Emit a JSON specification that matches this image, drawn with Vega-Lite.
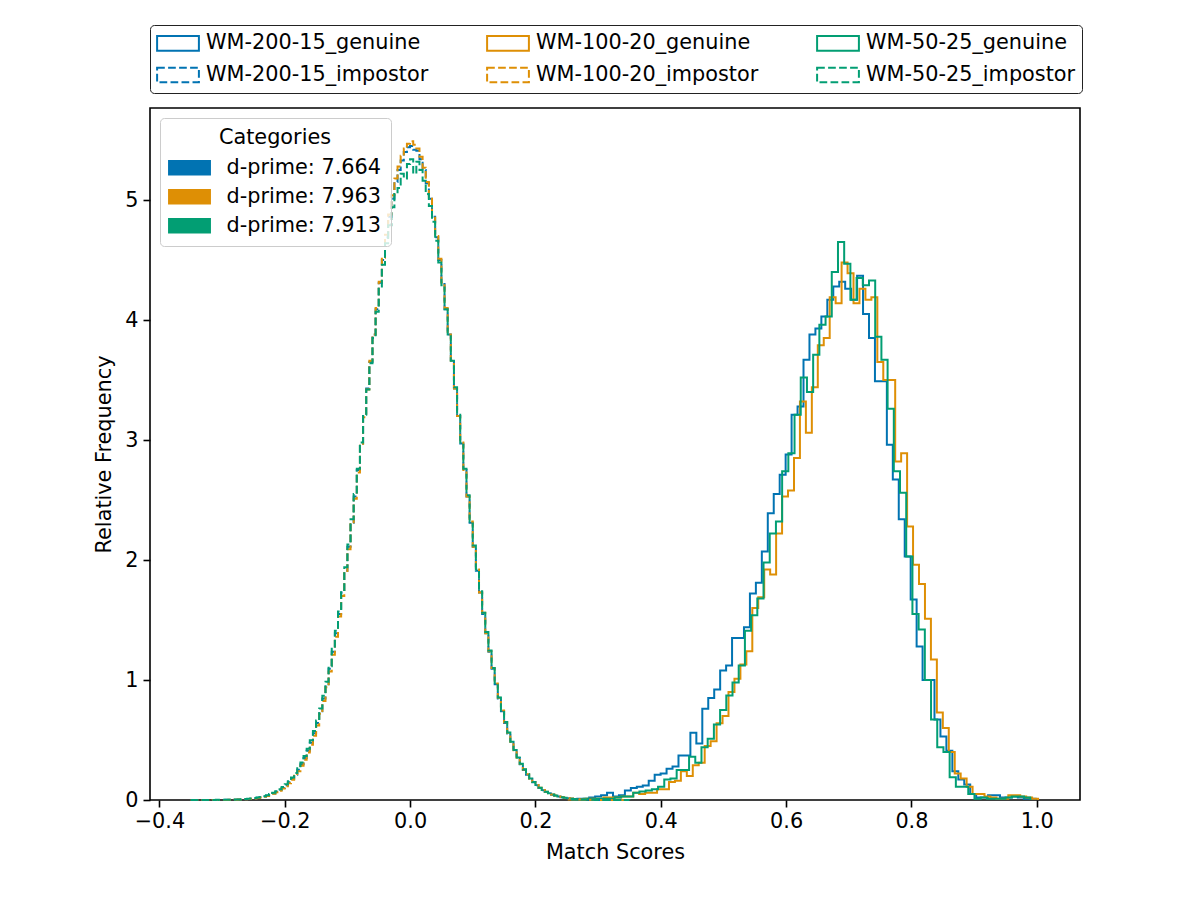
{
  "$schema": "https://vega.github.io/schema/vega-lite/v6.json",
  "width": 930,
  "height": 692,
  "autosize": {"type": "none"},
  "padding": {"left": 150, "top": 108, "right": 120, "bottom": 100},
  "config": {
    "font": "DejaVu Sans",
    "view": {"stroke": "black", "strokeWidth": 1.6},
    "axis": {
      "domain": false, "grid": false,
      "tickColor": "black", "tickSize": 7, "tickWidth": 1.6,
      "labelFontSize": 20.8, "labelColor": "black", "labelFont": "DejaVu Sans",
      "titleFontSize": 20.8, "titleFontWeight": "normal", "titleColor": "black", "titleFont": "DejaVu Sans"
    },
    "legend": {"labelFont": "DejaVu Sans", "titleFont": "DejaVu Sans", "labelColor": "black", "titleColor": "black", "labelLimit": 400}
  },
  "datasets": {
    "gn": [
      {"k": "b", "s": "WM-200-15_genuine"},
      {"k": "o", "s": "WM-100-20_genuine"},
      {"k": "g", "s": "WM-50-25_genuine"}
    ],
    "in": [
      {"k": "b", "s": "WM-200-15_impostor"},
      {"k": "o", "s": "WM-100-20_impostor"},
      {"k": "g", "s": "WM-50-25_impostor"}
    ],
    "gen": [
      {"k":"b","x":0.2573,"y":0.005},{"k":"b","x":0.2668,"y":0.01},{"k":"b","x":0.2763,"y":0.01},{"k":"b","x":0.2858,"y":0.02},
      {"k":"b","x":0.2953,"y":0.03},{"k":"b","x":0.3048,"y":0.04},{"k":"b","x":0.3143,"y":0.06},{"k":"b","x":0.3238,"y":0.03},
      {"k":"b","x":0.3333,"y":0.04},{"k":"b","x":0.3428,"y":0.08},{"k":"b","x":0.3523,"y":0.10},{"k":"b","x":0.3618,"y":0.11},
      {"k":"b","x":0.3713,"y":0.12},{"k":"b","x":0.3808,"y":0.16},{"k":"b","x":0.3903,"y":0.21},{"k":"b","x":0.3998,"y":0.22},
      {"k":"b","x":0.4093,"y":0.26},{"k":"b","x":0.4188,"y":0.28},{"k":"b","x":0.4283,"y":0.37},{"k":"b","x":0.4378,"y":0.37},
      {"k":"b","x":0.4473,"y":0.56},{"k":"b","x":0.4568,"y":0.47},{"k":"b","x":0.4663,"y":0.76},{"k":"b","x":0.4758,"y":0.85},
      {"k":"b","x":0.4853,"y":0.92},{"k":"b","x":0.4948,"y":1.08},{"k":"b","x":0.5043,"y":1.12},{"k":"b","x":0.5138,"y":1.35},
      {"k":"b","x":0.5233,"y":1.35},{"k":"b","x":0.5328,"y":1.44},{"k":"b","x":0.5423,"y":1.72},{"k":"b","x":0.5518,"y":1.81},
      {"k":"b","x":0.5613,"y":2.07},{"k":"b","x":0.5708,"y":2.39},{"k":"b","x":0.5803,"y":2.55},{"k":"b","x":0.5898,"y":2.71},
      {"k":"b","x":0.5993,"y":2.88},{"k":"b","x":0.6088,"y":3.21},{"k":"b","x":0.6183,"y":3.28},{"k":"b","x":0.6278,"y":3.67},
      {"k":"b","x":0.6373,"y":3.88},{"k":"b","x":0.6468,"y":3.93},{"k":"b","x":0.6563,"y":4.03},{"k":"b","x":0.6658,"y":4.17},
      {"k":"b","x":0.6753,"y":4.28},{"k":"b","x":0.6848,"y":4.32},{"k":"b","x":0.6943,"y":4.26},{"k":"b","x":0.7038,"y":4.17},
      {"k":"b","x":0.7133,"y":4.37},{"k":"b","x":0.7228,"y":4.05},{"k":"b","x":0.7323,"y":3.85},{"k":"b","x":0.7418,"y":3.49},
      {"k":"b","x":0.7513,"y":3.49},{"k":"b","x":0.7608,"y":2.96},{"k":"b","x":0.7703,"y":2.67},{"k":"b","x":0.7798,"y":2.34},
      {"k":"b","x":0.7893,"y":2.03},{"k":"b","x":0.7988,"y":1.67},{"k":"b","x":0.8083,"y":1.28},{"k":"b","x":0.8178,"y":1.00},
      {"k":"b","x":0.8273,"y":1.00},{"k":"b","x":0.8368,"y":0.67},{"k":"b","x":0.8463,"y":0.53},{"k":"b","x":0.8558,"y":0.41},
      {"k":"b","x":0.8653,"y":0.24},{"k":"b","x":0.8748,"y":0.17},{"k":"b","x":0.8843,"y":0.13},{"k":"b","x":0.8938,"y":0.05},
      {"k":"b","x":0.9033,"y":0.02},{"k":"b","x":0.9128,"y":0.02},{"k":"b","x":0.9223,"y":0.04},{"k":"b","x":0.9318,"y":0.04},
      {"k":"b","x":0.9413,"y":0.02},{"k":"b","x":0.9508,"y":0.02},{"k":"b","x":0.9603,"y":0.03},{"k":"b","x":0.9698,"y":0.02},
      {"k":"b","x":0.9793,"y":0.01},{"k":"b","x":0.9888,"y":0.01},{"k":"b","x":0.9983,"y":0},

      {"k":"o","x":0.2516,"y":0.005},{"k":"o","x":0.2611,"y":0.005},{"k":"o","x":0.2706,"y":0.005},{"k":"o","x":0.2801,"y":0.01},
      {"k":"o","x":0.2896,"y":0.01},{"k":"o","x":0.2991,"y":0.01},{"k":"o","x":0.3086,"y":0.02},{"k":"o","x":0.3181,"y":0.02},
      {"k":"o","x":0.3276,"y":0.02},{"k":"o","x":0.3371,"y":0.03},{"k":"o","x":0.3466,"y":0.03},{"k":"o","x":0.3561,"y":0.06},
      {"k":"o","x":0.3656,"y":0.05},{"k":"o","x":0.3751,"y":0.06},{"k":"o","x":0.3846,"y":0.06},{"k":"o","x":0.3941,"y":0.09},
      {"k":"o","x":0.4036,"y":0.09},{"k":"o","x":0.4131,"y":0.15},{"k":"o","x":0.4226,"y":0.16},{"k":"o","x":0.4321,"y":0.24},
      {"k":"o","x":0.4416,"y":0.20},{"k":"o","x":0.4511,"y":0.29},{"k":"o","x":0.4606,"y":0.31},{"k":"o","x":0.4701,"y":0.45},
      {"k":"o","x":0.4796,"y":0.49},{"k":"o","x":0.4891,"y":0.64},{"k":"o","x":0.4986,"y":0.70},{"k":"o","x":0.5081,"y":0.90},
      {"k":"o","x":0.5176,"y":1.01},{"k":"o","x":0.5271,"y":1.13},{"k":"o","x":0.5366,"y":1.24},{"k":"o","x":0.5461,"y":1.60},
      {"k":"o","x":0.5556,"y":1.69},{"k":"o","x":0.5651,"y":1.92},{"k":"o","x":0.5746,"y":1.88},{"k":"o","x":0.5841,"y":2.22},
      {"k":"o","x":0.5936,"y":2.53},{"k":"o","x":0.6031,"y":2.58},{"k":"o","x":0.6126,"y":2.85},{"k":"o","x":0.6221,"y":3.32},
      {"k":"o","x":0.6316,"y":3.06},{"k":"o","x":0.6411,"y":3.44},{"k":"o","x":0.6506,"y":3.79},{"k":"o","x":0.6601,"y":3.85},
      {"k":"o","x":0.6696,"y":4.19},{"k":"o","x":0.6791,"y":4.14},{"k":"o","x":0.6886,"y":4.48},{"k":"o","x":0.6981,"y":4.39},
      {"k":"o","x":0.7076,"y":4.14},{"k":"o","x":0.7171,"y":4.26},{"k":"o","x":0.7266,"y":4.17},{"k":"o","x":0.7361,"y":4.19},
      {"k":"o","x":0.7456,"y":3.65},{"k":"o","x":0.7551,"y":3.50},{"k":"o","x":0.7646,"y":3.50},{"k":"o","x":0.7741,"y":2.82},
      {"k":"o","x":0.7836,"y":2.89},{"k":"o","x":0.7931,"y":2.28},{"k":"o","x":0.8026,"y":1.96},{"k":"o","x":0.8121,"y":1.80},
      {"k":"o","x":0.8216,"y":1.51},{"k":"o","x":0.8311,"y":1.17},{"k":"o","x":0.8406,"y":0.73},{"k":"o","x":0.8501,"y":0.60},
      {"k":"o","x":0.8596,"y":0.40},{"k":"o","x":0.8691,"y":0.22},{"k":"o","x":0.8786,"y":0.18},{"k":"o","x":0.8881,"y":0.11},
      {"k":"o","x":0.8976,"y":0.05},{"k":"o","x":0.9071,"y":0.05},{"k":"o","x":0.9166,"y":0.03},{"k":"o","x":0.9261,"y":0.02},
      {"k":"o","x":0.9356,"y":0.01},{"k":"o","x":0.9451,"y":0.01},{"k":"o","x":0.9546,"y":0.04},{"k":"o","x":0.9641,"y":0.04},
      {"k":"o","x":0.9736,"y":0.03},{"k":"o","x":0.9831,"y":0.02},{"k":"o","x":0.9926,"y":0.01},{"k":"o","x":1.0021,"y":0},

      {"k":"g","x":0.2571,"y":0.005},{"k":"g","x":0.2670,"y":0.005},{"k":"g","x":0.2769,"y":0.01},{"k":"g","x":0.2868,"y":0.01},
      {"k":"g","x":0.2967,"y":0.01},{"k":"g","x":0.3066,"y":0.01},{"k":"g","x":0.3165,"y":0.01},{"k":"g","x":0.3264,"y":0.02},
      {"k":"g","x":0.3363,"y":0.03},{"k":"g","x":0.3462,"y":0.03},{"k":"g","x":0.3561,"y":0.06},{"k":"g","x":0.3660,"y":0.07},
      {"k":"g","x":0.3759,"y":0.08},{"k":"g","x":0.3858,"y":0.09},{"k":"g","x":0.3957,"y":0.11},{"k":"g","x":0.4056,"y":0.17},
      {"k":"g","x":0.4155,"y":0.18},{"k":"g","x":0.4254,"y":0.25},{"k":"g","x":0.4353,"y":0.25},{"k":"g","x":0.4452,"y":0.36},
      {"k":"g","x":0.4551,"y":0.31},{"k":"g","x":0.4650,"y":0.44},{"k":"g","x":0.4749,"y":0.51},{"k":"g","x":0.4848,"y":0.63},
      {"k":"g","x":0.4947,"y":0.75},{"k":"g","x":0.5046,"y":0.87},{"k":"g","x":0.5145,"y":0.98},{"k":"g","x":0.5244,"y":1.12},
      {"k":"g","x":0.5343,"y":1.41},{"k":"g","x":0.5442,"y":1.54},{"k":"g","x":0.5541,"y":1.68},{"k":"g","x":0.5640,"y":1.98},
      {"k":"g","x":0.5739,"y":2.22},{"k":"g","x":0.5838,"y":2.32},{"k":"g","x":0.5937,"y":2.74},{"k":"g","x":0.6036,"y":2.89},
      {"k":"g","x":0.6135,"y":3.21},{"k":"g","x":0.6234,"y":3.52},{"k":"g","x":0.6333,"y":3.40},{"k":"g","x":0.6432,"y":3.71},
      {"k":"g","x":0.6531,"y":3.96},{"k":"g","x":0.6630,"y":4.03},{"k":"g","x":0.6729,"y":4.40},{"k":"g","x":0.6828,"y":4.65},
      {"k":"g","x":0.6927,"y":4.47},{"k":"g","x":0.7026,"y":4.17},{"k":"g","x":0.7125,"y":4.35},{"k":"g","x":0.7224,"y":4.29},
      {"k":"g","x":0.7323,"y":4.33},{"k":"g","x":0.7422,"y":3.86},{"k":"g","x":0.7521,"y":3.67},{"k":"g","x":0.7620,"y":3.26},
      {"k":"g","x":0.7719,"y":2.74},{"k":"g","x":0.7818,"y":2.56},{"k":"g","x":0.7917,"y":2.03},{"k":"g","x":0.8016,"y":1.55},
      {"k":"g","x":0.8115,"y":1.42},{"k":"g","x":0.8214,"y":1.00},{"k":"g","x":0.8313,"y":0.67},{"k":"g","x":0.8412,"y":0.44},
      {"k":"g","x":0.8511,"y":0.40},{"k":"g","x":0.8610,"y":0.19},{"k":"g","x":0.8709,"y":0.11},{"k":"g","x":0.8808,"y":0.11},
      {"k":"g","x":0.8907,"y":0.05},{"k":"g","x":0.9006,"y":0.01},{"k":"g","x":0.9105,"y":0.02},{"k":"g","x":0.9204,"y":0.01},
      {"k":"g","x":0.9303,"y":0.01},{"k":"g","x":0.9402,"y":0.01},{"k":"g","x":0.9501,"y":0.02},{"k":"g","x":0.9600,"y":0.03},
      {"k":"g","x":0.9699,"y":0.03},{"k":"g","x":0.9798,"y":0.02},{"k":"g","x":0.9897,"y":0}
    ],
    "imp": [
      {"x":-0.35,"b":0.001,"o":0.001,"g":0},{"x":-0.345,"b":0,"o":0.001,"g":0.001},{"x":-0.34,"b":0.001,"o":0,"g":0.001},
      {"x":-0.335,"b":0.001,"o":0.001,"g":0.001},{"x":-0.33,"b":0,"o":0.001,"g":0.001},{"x":-0.325,"b":0.001,"o":0.001,"g":0},
      {"x":-0.32,"b":0.001,"o":0,"g":0.001},{"x":-0.315,"b":0.001,"o":0.001,"g":0.001},{"x":-0.31,"b":0.001,"o":0.001,"g":0.002},
      {"x":-0.305,"b":0.001,"o":0.001,"g":0.001},{"x":-0.3,"b":0.001,"o":0.001,"g":0.002},{"x":-0.295,"b":0.002,"o":0.001,"g":0.002},
      {"x":-0.29,"b":0.002,"o":0.002,"g":0.002},{"x":-0.285,"b":0.003,"o":0.002,"g":0.003},{"x":-0.28,"b":0.003,"o":0.003,"g":0.004},
      {"x":-0.275,"b":0.004,"o":0.004,"g":0.005},{"x":-0.27,"b":0.005,"o":0.005,"g":0.006},{"x":-0.265,"b":0.007,"o":0.006,"g":0.008},
      {"x":-0.26,"b":0.009,"o":0.008,"g":0.01},{"x":-0.255,"b":0.011,"o":0.01,"g":0.013},{"x":-0.25,"b":0.014,"o":0.013,"g":0.016},
      {"x":-0.245,"b":0.018,"o":0.017,"g":0.02},{"x":-0.24,"b":0.023,"o":0.021,"g":0.026},{"x":-0.235,"b":0.029,"o":0.027,"g":0.032},
      {"x":-0.23,"b":0.036,"o":0.034,"g":0.04},{"x":-0.225,"b":0.045,"o":0.042,"g":0.049},{"x":-0.22,"b":0.055,"o":0.052,"g":0.06},
      {"x":-0.215,"b":0.068,"o":0.064,"g":0.073},{"x":-0.21,"b":0.083,"o":0.078,"g":0.089},{"x":-0.205,"b":0.1,"o":0.095,"g":0.108},
      {"x":-0.2,"b":0.122,"o":0.115,"g":0.131},{"x":-0.195,"b":0.148,"o":0.14,"g":0.157},{"x":-0.19,"b":0.176,"o":0.168,"g":0.187},
      {"x":-0.185,"b":0.211,"o":0.202,"g":0.224},{"x":-0.18,"b":0.252,"o":0.24,"g":0.265},{"x":-0.175,"b":0.297,"o":0.285,"g":0.312},
      {"x":-0.17,"b":0.35,"o":0.335,"g":0.366},{"x":-0.165,"b":0.41,"o":0.395,"g":0.428},{"x":-0.16,"b":0.478,"o":0.46,"g":0.497},
      {"x":-0.155,"b":0.556,"o":0.535,"g":0.575},{"x":-0.15,"b":0.642,"o":0.62,"g":0.662},{"x":-0.145,"b":0.74,"o":0.718,"g":0.762},
      {"x":-0.14,"b":0.846,"o":0.825,"g":0.868},{"x":-0.135,"b":0.965,"o":0.94,"g":0.985},{"x":-0.13,"b":1.094,"o":1.07,"g":1.115},
      {"x":-0.125,"b":1.235,"o":1.21,"g":1.26},{"x":-0.12,"b":1.39,"o":1.36,"g":1.41},{"x":-0.115,"b":1.55,"o":1.53,"g":1.57},
      {"x":-0.11,"b":1.73,"o":1.7,"g":1.75},{"x":-0.105,"b":1.91,"o":1.89,"g":1.94},{"x":-0.1,"b":2.11,"o":2.09,"g":2.13},
      {"x":-0.095,"b":2.31,"o":2.3,"g":2.34},{"x":-0.09,"b":2.53,"o":2.51,"g":2.55},{"x":-0.085,"b":2.75,"o":2.73,"g":2.76},
      {"x":-0.08,"b":2.97,"o":2.96,"g":2.98},{"x":-0.075,"b":3.2,"o":3.19,"g":3.21},{"x":-0.07,"b":3.43,"o":3.42,"g":3.42},
      {"x":-0.065,"b":3.65,"o":3.66,"g":3.64},{"x":-0.06,"b":3.88,"o":3.88,"g":3.85},{"x":-0.055,"b":4.09,"o":4.1,"g":4.07},
      {"x":-0.05,"b":4.31,"o":4.32,"g":4.27},{"x":-0.045,"b":4.5,"o":4.52,"g":4.46},{"x":-0.04,"b":4.69,"o":4.71,"g":4.64},
      {"x":-0.035,"b":4.86,"o":4.88,"g":4.79},{"x":-0.03,"b":5.01,"o":5.04,"g":4.94},{"x":-0.025,"b":5.15,"o":5.18,"g":5.05},
      {"x":-0.02,"b":5.25,"o":5.28,"g":5.1},{"x":-0.015,"b":5.33,"o":5.37,"g":5.22},{"x":-0.01,"b":5.4,"o":5.43,"g":5.18},
      {"x":-0.005,"b":5.44,"o":5.47,"g":5.3},{"x":0,"b":5.45,"o":5.49,"g":5.34},{"x":0.005,"b":5.42,"o":5.46,"g":5.22},
      {"x":0.01,"b":5.41,"o":5.43,"g":5.32},{"x":0.015,"b":5.34,"o":5.36,"g":5.25},{"x":0.02,"b":5.25,"o":5.27,"g":5.16},
      {"x":0.025,"b":5.14,"o":5.15,"g":5.05},{"x":0.03,"b":5.01,"o":5.02,"g":4.95},{"x":0.035,"b":4.86,"o":4.87,"g":4.82},
      {"x":0.04,"b":4.69,"o":4.7,"g":4.66},{"x":0.045,"b":4.5,"o":4.51,"g":4.48},{"x":0.05,"b":4.3,"o":4.31,"g":4.29},
      {"x":0.055,"b":4.09,"o":4.1,"g":4.09},{"x":0.06,"b":3.88,"o":3.88,"g":3.88},{"x":0.065,"b":3.65,"o":3.66,"g":3.66},
      {"x":0.07,"b":3.43,"o":3.43,"g":3.44},{"x":0.075,"b":3.2,"o":3.2,"g":3.21},{"x":0.08,"b":2.97,"o":2.98,"g":2.98},
      {"x":0.085,"b":2.75,"o":2.75,"g":2.76},{"x":0.09,"b":2.53,"o":2.53,"g":2.54},{"x":0.095,"b":2.31,"o":2.32,"g":2.32},
      {"x":0.1,"b":2.11,"o":2.11,"g":2.12},{"x":0.105,"b":1.91,"o":1.92,"g":1.92},{"x":0.11,"b":1.73,"o":1.73,"g":1.74},
      {"x":0.115,"b":1.55,"o":1.56,"g":1.56},{"x":0.12,"b":1.39,"o":1.39,"g":1.4},{"x":0.125,"b":1.235,"o":1.24,"g":1.245},
      {"x":0.13,"b":1.094,"o":1.1,"g":1.1},{"x":0.135,"b":0.964,"o":0.97,"g":0.975},{"x":0.14,"b":0.846,"o":0.852,"g":0.855},
      {"x":0.145,"b":0.739,"o":0.745,"g":0.748},{"x":0.15,"b":0.642,"o":0.648,"g":0.65},{"x":0.155,"b":0.555,"o":0.56,"g":0.563},
      {"x":0.16,"b":0.478,"o":0.483,"g":0.485},{"x":0.165,"b":0.41,"o":0.414,"g":0.416},{"x":0.17,"b":0.349,"o":0.353,"g":0.355},
      {"x":0.175,"b":0.297,"o":0.3,"g":0.302},{"x":0.18,"b":0.251,"o":0.254,"g":0.256},{"x":0.185,"b":0.211,"o":0.214,"g":0.215},
      {"x":0.19,"b":0.176,"o":0.178,"g":0.18},{"x":0.195,"b":0.147,"o":0.149,"g":0.15},{"x":0.2,"b":0.122,"o":0.124,"g":0.124},
      {"x":0.205,"b":0.1,"o":0.102,"g":0.102},{"x":0.21,"b":0.082,"o":0.084,"g":0.084},{"x":0.215,"b":0.067,"o":0.069,"g":0.068},
      {"x":0.22,"b":0.055,"o":0.056,"g":0.056},{"x":0.225,"b":0.044,"o":0.046,"g":0.045},{"x":0.23,"b":0.036,"o":0.037,"g":0.037},
      {"x":0.235,"b":0.029,"o":0.03,"g":0.029},{"x":0.24,"b":0.023,"o":0.024,"g":0.023},{"x":0.245,"b":0.018,"o":0.019,"g":0.018},
      {"x":0.25,"b":0.014,"o":0.015,"g":0.014},{"x":0.255,"b":0.011,"o":0.012,"g":0.011},{"x":0.26,"b":0.009,"o":0.009,"g":0.009},
      {"x":0.265,"b":0.007,"o":0.007,"g":0.007},{"x":0.27,"b":0.005,"o":0.005,"g":0.005},{"x":0.275,"b":0.004,"o":0.004,"g":0.004},
      {"x":0.28,"b":0.003,"o":0.003,"g":0.003},{"x":0.285,"b":0.002,"o":0.002,"g":0.002},{"x":0.29,"b":0.002,"o":0.002,"g":0.002},
      {"x":0.295,"b":0.001,"o":0.001,"g":0.001},{"x":0.3,"b":0.001,"o":0.001,"g":0.001},{"x":0.305,"b":0.001,"o":0.001,"g":0.001},
      {"x":0.31,"b":0.001,"o":0,"g":0.001},{"x":0.315,"b":0,"o":0.001,"g":0.001},{"x":0.32,"b":0.001,"o":0.001,"g":0},
      {"x":0.325,"b":0.001,"o":0,"g":0.001},{"x":0.33,"b":0,"o":0.001,"g":0},{"x":0.335,"b":0.001,"o":0,"g":0.001},
      {"x":0.34,"b":0,"o":0.001,"g":0},{"x":0.345,"b":0.001,"o":0,"g":0.001},{"x":0.35,"b":0,"o":0,"g":0}
    ]
  },
  "layer": [
    {
      "data": {"name": "gen"},
      "transform": [
        {"lookup": "k", "from": {"data": {"name": "gn"}, "key": "k", "fields": ["s"]}}
      ],
      "mark": {"type": "line", "interpolate": "step-after", "strokeWidth": 2},
      "encoding": {
        "x": {
          "field": "x", "type": "quantitative",
          "scale": {"domain": [-0.415, 1.069], "nice": false, "zero": false},
          "axis": {"values": [-0.4, -0.2, 0, 0.2, 0.4, 0.6, 0.8, 1.0], "format": ".1f", "labelFlush": false, "title": "Match Scores", "labelPadding": 4, "titlePadding": 12}
        },
        "y": {
          "field": "y", "type": "quantitative",
          "scale": {"domain": [0, 5.767], "nice": false},
          "axis": {"values": [0, 1, 2, 3, 4, 5], "format": "d", "labelFlush": false, "title": "Relative Frequency", "labelPadding": 5, "titlePadding": 10}
        },
        "stroke": {
          "field": "s", "type": "nominal",
          "scale": {
            "domain": ["WM-200-15_genuine", "WM-200-15_impostor", "WM-100-20_genuine", "WM-100-20_impostor", "WM-50-25_genuine", "WM-50-25_impostor"],
            "range": ["#0173b2", "#0173b2", "#de8f05", "#de8f05", "#029e73", "#029e73"]
          },
          "legend": {
            "title": null, "orient": "none", "legendX": 0, "legendY": -83, "columns": 3, "gridAlign": "each",
            "symbolType": "M-1.9,-0.66L1.9,-0.66L1.9,0.66L-1.9,0.66Z", "symbolSize": 484, "symbolStrokeWidth": 2, "symbolOffset": 10,
            "labelFontSize": 20.8, "labelOffset": 16, "columnPadding": 54, "rowPadding": 8, "padding": 6,
            "strokeColor": "#222222", "fillColor": "white", "cornerRadius": 4
          }
        },
        "strokeDash": {
          "field": "s", "type": "nominal",
          "scale": {
            "domain": ["WM-200-15_genuine", "WM-200-15_impostor", "WM-100-20_genuine", "WM-100-20_impostor", "WM-50-25_genuine", "WM-50-25_impostor"],
            "range": [[1, 0], [7.7, 3.3], [1, 0], [7.7, 3.3], [1, 0], [7.7, 3.3]]
          },
          "legend": {
            "title": null, "orient": "none", "legendX": 0, "legendY": -83, "columns": 3, "gridAlign": "each",
            "symbolType": "M-1.9,-0.66L1.9,-0.66L1.9,0.66L-1.9,0.66Z", "symbolSize": 484, "symbolStrokeWidth": 2, "symbolOffset": 10,
            "labelFontSize": 20.8, "labelOffset": 16, "columnPadding": 54, "rowPadding": 8, "padding": 6,
            "strokeColor": "#222222", "fillColor": "white", "cornerRadius": 4
          }
        }
      }
    },
    {
      "data": {"name": "imp"},
      "transform": [
        {"fold": ["b", "o", "g"], "as": ["k", "y"]},
        {"lookup": "k", "from": {"data": {"name": "in"}, "key": "k", "fields": ["s"]}}
      ],
      "mark": {"type": "line", "interpolate": "step-after", "strokeWidth": 2},
      "encoding": {
        "x": {"field": "x", "type": "quantitative"},
        "y": {"field": "y", "type": "quantitative"},
        "stroke": {"field": "s", "type": "nominal"},
        "strokeDash": {"field": "s", "type": "nominal"}
      }
    },
    {
      "data": {"values": [{"c": "d-prime: 7.664"}, {"c": "d-prime: 7.963"}, {"c": "d-prime: 7.913"}]},
      "mark": {"type": "point", "filled": true, "size": 0},
      "encoding": {
        "fill": {
          "field": "c", "type": "nominal",
          "scale": {"domain": ["d-prime: 7.664", "d-prime: 7.963", "d-prime: 7.913"], "range": ["#0173b2", "#de8f05", "#029e73"]},
          "legend": {
            "title": "Categories", "orient": "none", "legendX": 10, "legendY": 10, "titleAnchor": "middle",
            "titleFontSize": 20.8, "titleFontWeight": "normal", "titlePadding": 8,
            "symbolType": "M-1.95,-0.7L1.95,-0.7L1.95,0.7L-1.95,0.7Z", "symbolSize": 484, "symbolStrokeWidth": 0, "symbolOpacity": 1, "symbolOffset": 8.5,
            "labelFontSize": 20.8, "labelOffset": 26, "rowPadding": 8, "padding": 10,
            "strokeColor": "#cccccc", "fillColor": "rgba(255,255,255,0.8)", "cornerRadius": 4
          }
        }
      }
    }
  ]
}
